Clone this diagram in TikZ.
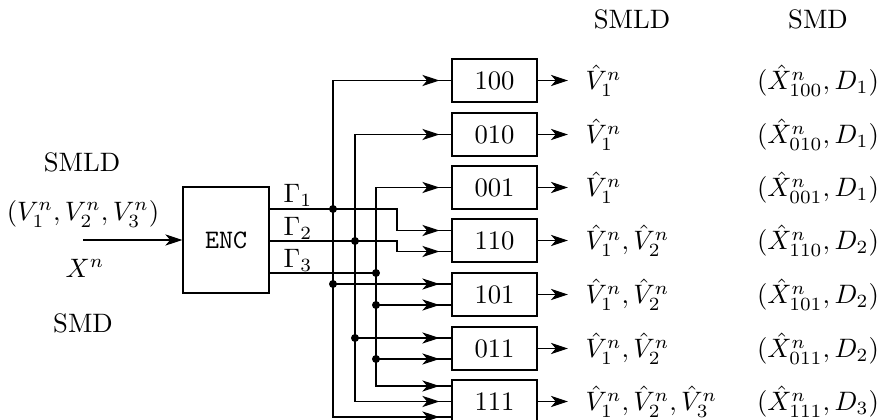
\documentclass[tikz,border=0pt]{standalone}
\usetikzlibrary{arrows.meta,calc}
\begin{document}
\begin{tikzpicture}[x=0.375pt,y=-0.375pt,
  wire/.style={line width=0.45pt},
  tip/.style={-{Stealth[length=6.4pt,width=4.2pt,inset=1.8pt]}},
  blk/.style={draw, line width=0.45pt, minimum width=31.9pt, minimum height=16.1pt, inner sep=0pt},
  jdot/.style={circle, fill, inner sep=0pt, minimum size=3pt},
  lbl/.style={inner sep=0pt}]
\clip (0,0) rectangle (880,420);
% encoder
\node[blk, minimum width=32.25pt, minimum height=39.75pt] (enc) at (226,240) {\texttt{ENC}};
\coordinate (xin) at (83,240);
\draw[wire,tip] (xin) -- (enc.west);
\node[lbl] (lsmld) at (82,162) {SMLD};
\node[lbl] (lv) at (83,214) {$(V_1^n,V_2^n,V_3^n)$};
\node[lbl] (lx) at (85,268) {$X^n$};
\node[lbl] (lsmd) at (83,323) {SMD};
% top labels
\node[lbl] (tsmld) at (632,19) {SMLD};
\node[lbl] (tsmd) at (818,19) {SMD};
% decoder boxes
\foreach \lab/\y/\v/\d in {100/80.5/{\hat V_1^n}/1,010/134.5/{\hat V_1^n}/1,001/187.5/{\hat V_1^n}/1,
  110/240.5/{\hat V_1^n,\hat V_2^n}/2,101/294.5/{\hat V_1^n,\hat V_2^n}/2,011/348.5/{\hat V_1^n,\hat V_2^n}/2,
  111/401.5/{\hat V_1^n,\hat V_2^n,\hat V_3^n}/3}{
  \node[blk] (b\lab) at (494.5,\y) {\lab};
  \coordinate (o\lab) at (568,\y);
  \draw[wire,tip] (b\lab.east) -- (o\lab);
  \node[lbl, anchor=west] (v\lab) at (585,\y) {$\v$};
  \node[lbl] (r\lab) at (818,\y) {$(\hat X^n_{\lab},D_{\d})$};
}
% input points
\coordinate (i100) at (b100.west);
\coordinate (i010) at (b010.west);
\coordinate (i001) at (b001.west);
\coordinate (i110a) at ($(b110.west)+(0,-10)$);
\coordinate (i110b) at ($(b110.west)+(0,11)$);
\coordinate (i101a) at ($(b101.west)+(0,-10.5)$);
\coordinate (i101b) at ($(b101.west)+(0,10.5)$);
\coordinate (i011a) at ($(b011.west)+(0,-10.5)$);
\coordinate (i011b) at ($(b011.west)+(0,10.5)$);
\coordinate (i111a) at ($(b111.west)+(0,-15.5)$);
\coordinate (i111b) at ($(b111.west)+(0,0)$);
\coordinate (i111c) at ($(b111.west)+(0,15.5)$);
% bus x positions
\coordinate (x1) at (333,0);
\coordinate (x2) at (355,0);
\coordinate (x3) at (376,0);
\coordinate (xj) at (397,0);
% encoder outputs
\coordinate (g1) at ($(enc.east)+(0,-31)$);
\coordinate (g2) at ($(enc.east)+(0,1)$);
\coordinate (g3) at ($(enc.east)+(0,33)$);
\node[lbl] (lg1) at (298,195) {$\Gamma_1$};
\node[lbl] (lg2) at (298,228) {$\Gamma_2$};
\node[lbl] (lg3) at (298,260) {$\Gamma_3$};
% buses
\draw[wire] (i100) -| (x1 |- i111c) -- (i111c);
\draw[wire] (i010) -| (x2 |- i111b) -- (i111b);
\draw[wire] (i001) -| (x3 |- i111a) -- (i111a);
\draw[wire] (g1) -- (g1 -| xj) |- (i110a);
\draw[wire] (g2) -- (g2 -| xj) |- (i110b);
\draw[wire] (g3) -- (g3 -| x3);
\draw[wire] (x1 |- i101a) -- (i101a);
\draw[wire] (x3 |- i101b) -- (i101b);
\draw[wire] (x2 |- i011a) -- (i011a);
\draw[wire] (x3 |- i011b) -- (i011b);
% junction dots
\node[jdot] (d1) at (x1 |- g1) {};
\node[jdot] (d2) at (x2 |- g2) {};
\node[jdot] (d3) at (x3 |- g3) {};
\node[jdot] (d4) at (x1 |- i101a) {};
\node[jdot] (d5) at (x3 |- i101b) {};
\node[jdot] (d6) at (x2 |- i011a) {};
\node[jdot] (d7) at (x3 |- i011b) {};
% arrow tips on box inputs
\foreach \c in {i100,i010,i001,i110a,i110b,i101a,i101b,i011a,i011b,i111a,i111b,i111c}{
  \draw[wire,tip] ($(\c)+(-30,0)$) -- ($(\c)+(-12,0)$);
}
\end{tikzpicture}
\end{document}
